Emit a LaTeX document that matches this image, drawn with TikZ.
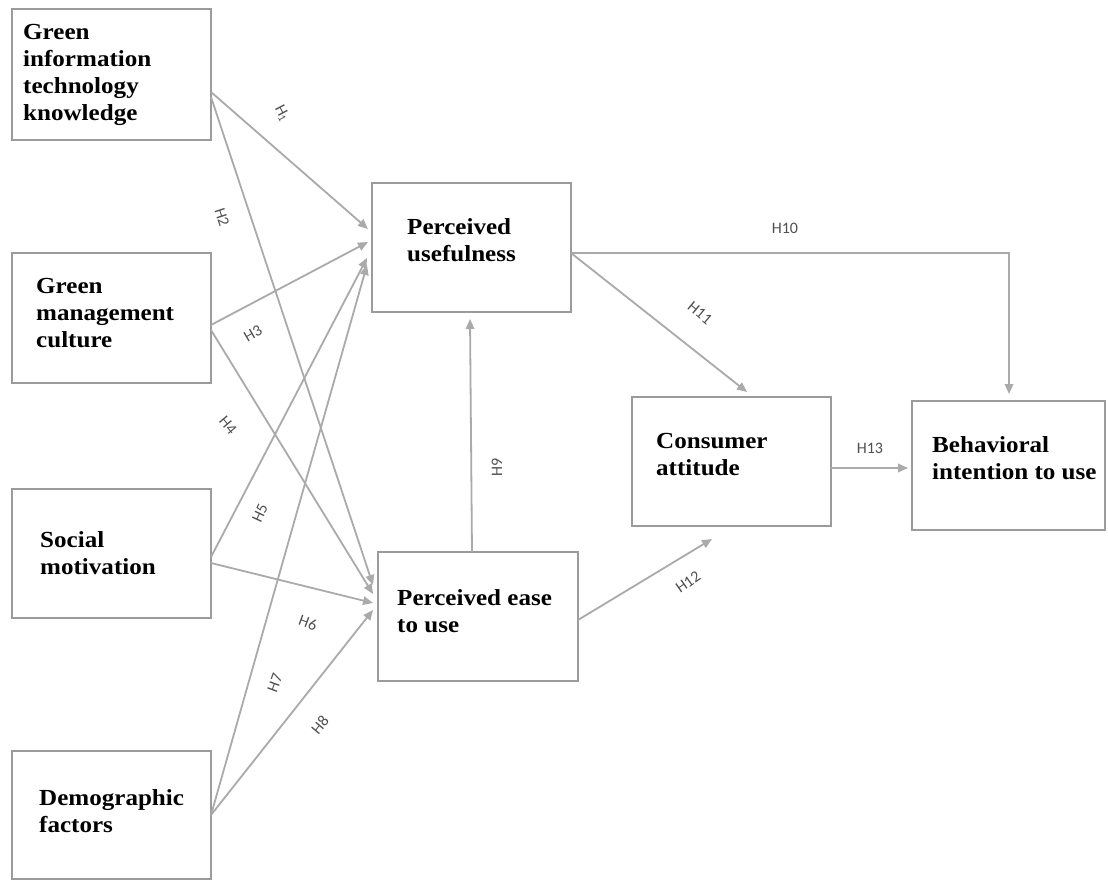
\documentclass[tikz,border=0pt]{standalone}
\usepackage{fontspec}
\setmainfont{Liberation Serif}
\newfontfamily\boxfontfam[FakeStretch=1.09]{Liberation Serif}
\newfontfamily\labelfontfam{Carlito}
\usetikzlibrary{arrows.meta,calc}
\definecolor{boxgray}{RGB}{155,155,155}
\definecolor{linegray}{RGB}{170,170,170}
\definecolor{labelgray}{RGB}{80,80,80}
\begin{document}
\begin{tikzpicture}[x=1pt,y=-1pt,
  box/.style={draw=boxgray, line width=2.4pt, inner sep=0pt, outer sep=0pt},
  txt/.style={font=\boxfontfam\bfseries\fontsize{23}{27}\selectfont, anchor=base west, align=left, inner sep=0pt, text=black},
  conn/.style={draw=linegray, line width=1.8pt, -{Triangle[length=10pt,width=8.5pt]}},
  lbl/.style={font=\labelfontfam\fontsize{16}{16}\selectfont, text=labelgray, inner sep=0pt}]
\useasboundingbox[fill=white] (0,0) rectangle (1108,881);
% boxes
\node[box, minimum width=199pt, minimum height=131pt] (git) at (111.5,74.5) {};
\node[box, minimum width=199pt, minimum height=130pt] (gmc) at (111.5,318) {};
\node[box, minimum width=199pt, minimum height=129pt] (sm) at (111.5,553.5) {};
\node[box, minimum width=199pt, minimum height=128pt] (df) at (111.5,815) {};
\node[box, minimum width=199pt, minimum height=129pt] (pu) at (471.5,247.5) {};
\node[box, minimum width=200pt, minimum height=129pt] (pe) at (478,616.5) {};
\node[box, minimum width=199pt, minimum height=129pt] (ca) at (731.5,461.5) {};
\node[box, minimum width=193pt, minimum height=129pt] (bi) at (1008.5,465.5) {};
% texts (anchored at the baseline of their last line)
\node[txt] (tgit) at (23,120) {Green\\information\\technology\\knowledge};
\node[txt] (tgmc) at (36,347) {Green\\management\\culture};
\node[txt] (tsm) at (40,574) {Social\\motivation};
\node[txt] (tdf) at (39,832) {Demographic\\factors};
\node[txt] (tpu) at (407,261) {Perceived\\usefulness};
\node[txt] (tpe) at (397,632) {Perceived ease\\to use};
\node[txt] (tca) at (656,475) {Consumer\\attitude};
\node[txt] (tbi) at (932,479) {Behavioral\\intention to use};
% connectors
\draw[conn] ($(git.north east)+(0,83)$) -- ($(pu.north west)+(-4,46)$);
\draw[conn] ($(git.north east)+(0,88)$) -- ($(pe.north west)+(-5,33)$);
\draw[conn] ($(gmc.north east)+(0,72)$) -- ($(pu.north west)+(-4,59)$);
\draw[conn] ($(gmc.north east)+(0,77)$) -- ($(pe.north west)+(-5,42)$);
\draw[conn] ($(sm.north east)+(0,68)$) -- ($(pu.north west)+(-5,75)$);
\draw[conn] ($(sm.north east)+(0,74)$) -- ($(pe.north west)+(-5,51)$);
\draw[conn] ($(df.north east)+(0,64)$) -- ($(pu.north west)+(-5,82)$);
\draw[conn] ($(df.north east)+(0,64)$) -- ($(pe.north west)+(-5,58)$);
\draw[conn] ($(pe.north)+(-6,0)$) -- ($(pu.south)+(-1.5,7)$);
\coordinate (c10) at ($(pu.north east)+(438,70)$);
\draw[conn] ($(pu.north east)+(0,70)$) -- (c10) -- ($(bi.north west)+(97,-7)$);
\draw[conn] ($(pu.north east)+(0,70)$) -- ($(ca.north west)+(115,-5)$);
\draw[conn] ($(pe.north east)+(0,68)$) -- ($(ca.south west)+(80,13)$);
\draw[conn] ($(ca.north east)+(0,71)$) -- ($(bi.north west)+(-4,67)$);
% labels
\node[lbl, rotate=-62] (l1) at (282,113) {H\raisebox{-2pt}{\fontsize{11}{11}\selectfont 1}};
\node[lbl, rotate=-72] (l2) at (222,217) {H2};
\node[lbl, rotate=30] (l3) at (253,334) {H3};
\node[lbl, rotate=-50] (l4) at (228,425) {H4};
\node[lbl, rotate=65] (l5) at (260,513) {H5};
\node[lbl, rotate=-20] (l6) at (308,623) {H6};
\node[lbl, rotate=70] (l7) at (275,683) {H7};
\node[lbl, rotate=50] (l8) at (320,725) {H8};
\node[lbl, rotate=90] (l9) at (497,467) {H9};
\node[lbl] (l10) at (785,228) {H10};
\node[lbl, rotate=-40] (l11) at (700,313) {H11};
\node[lbl, rotate=35] (l12) at (688,582) {H12};
\node[lbl] (l13) at (870,448) {H13};
\end{tikzpicture}
\end{document}
